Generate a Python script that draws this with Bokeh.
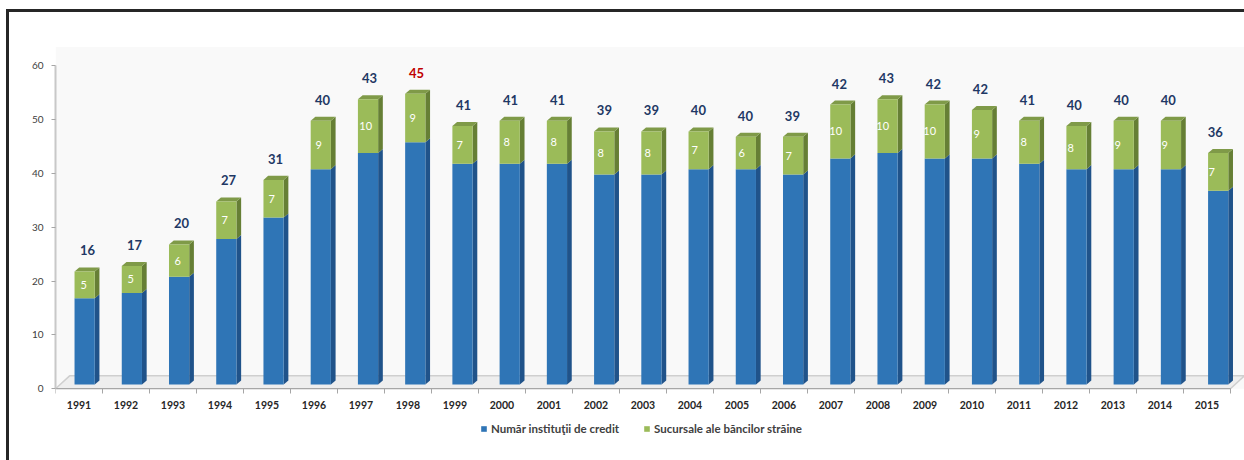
import numpy as np
from bokeh.plotting import figure
from bokeh.layouts import column, row
from bokeh.models import (Range1d, FixedTicker, Legend, LegendItem,
                          ColumnDataSource, Spacer)
from bokeh.core.properties import value
from bokeh.embed import file_html
from bokeh.resources import INLINE

# ---------------- data ----------------
years = ["1991", "1992", "1993", "1994", "1995", "1996", "1997", "1998", "1999",
         "2000", "2001", "2002", "2003", "2004", "2005", "2006", "2007", "2008",
         "2009", "2010", "2011", "2012", "2013", "2014", "2015"]
institutions = [16, 17, 20, 27, 31, 40, 43, 45, 41, 41, 41, 39, 39, 40, 40, 39,
                42, 43, 42, 42, 41, 40, 40, 40, 36]
branches = [5, 5, 6, 7, 7, 9, 10, 9, 7, 8, 8, 8, 8, 7, 6, 7, 10, 10, 10, 9, 8, 8,
            9, 9, 7]
highlight_year = "1998"
y_ticks = [0, 10, 20, 30, 40, 50, 60]
series_names = ["Număr instituţii de credit", "Sucursale ale băncilor străine"]

# ---------------- style ----------------
FONT = "Lato"
BLUE, BLUE_SIDE = "#2f75b6", "#20538a"
GREEN, GREEN_SIDE, GREEN_TOP = "#9bbb59", "#667f35", "#7f9a48"
NAVY, RED = "#1f3864", "#c00000"
FRAME_LINE = "#262626"

n = len(years)
pos = np.arange(1, n + 1, dtype=float)          # category centres
inst = np.array(institutions, dtype=float)
br = np.array(branches, dtype=float)

# pseudo-3D geometry (axis units)
shift_x, persp, bar_w = 0.12, 0.005, 0.43
dx, dy, lift = 0.10, 0.75, 0.8
fx, fy = 0.30, 2.4
X0, X1 = 0.5, 25.8
Y0, Y1 = -8.87, 64.7
WALL_TOP = 63.5

bx = pos + shift_x + (pos - 1) * persp
x0, x1 = bx - bar_w / 2, bx + bar_w / 2
b_bot = np.full(n, lift)
b_top = inst + lift
g_top = inst + br + lift

p = figure(width=1235, height=448,
           x_range=Range1d(X0, X1), y_range=Range1d(Y0, Y1),
           output_backend="svg", toolbar_location=None,
           min_border_left=46, min_border_right=0,
           min_border_top=28, min_border_bottom=24)
p.outline_line_color = None
p.background_fill_color = "white"
p.border_fill_color = "white"
p.xgrid.visible = False
p.ygrid.visible = False

# back wall and floor
p.quad(left=X0, right=X1, bottom=0, top=WALL_TOP,
       fill_color="#f9f9f9", line_color=None)
p.patch(x=[0.5, n + 0.5, n + 0.5 + fx, 0.5 + fx], y=[0, 0, fy, fy],
        fill_color="#eeeeee", line_color="#cfcfcf", line_width=1.5)

def side(xa, lo, hi):
    return ([[a, a + dx, a + dx, a] for a in xa],
            [[l, l + dy, h + dy, h] for l, h in zip(lo, hi)])

bs_x, bs_y = side(x1, b_bot, b_top)
p.patches(xs=bs_x, ys=bs_y, fill_color=BLUE_SIDE, line_color=None)
gs_x, gs_y = side(x1, b_top, g_top)
p.patches(xs=gs_x, ys=gs_y, fill_color=GREEN_SIDE, line_color=None)
gt_x = [[a, b, b + dx, a + dx] for a, b in zip(x0, x1)]
gt_y = [[t, t, t + dy, t + dy] for t in g_top]
p.patches(xs=gt_x, ys=gt_y, fill_color=GREEN_TOP, line_color=None)

r_blue = p.quad(left=x0, right=x1, bottom=b_bot, top=b_top,
                fill_color=BLUE, line_color=None)
r_green = p.quad(left=x0, right=x1, bottom=b_top, top=g_top,
                 fill_color=GREEN, line_color=None)

# labels
tot_src = ColumnDataSource(dict(
    x=pos + 0.18, y=g_top + dy, t=[str(v) for v in institutions],
    c=[RED if y == highlight_year else NAVY for y in years]))
p.text(x="x", y="y", text="t", source=tot_src, text_color="c",
       text_font=value(FONT), text_font_style="bold", text_font_size="13px",
       text_align="center", text_baseline="middle", y_offset=-17)

gr_src = ColumnDataSource(dict(x=pos + 0.1, y=b_top + br / 2,
                               t=[str(v) for v in branches]))
p.text(x="x", y="y", text="t", source=gr_src, text_color="white",
       text_font=value(FONT), text_font_size="11px",
       text_align="center", text_baseline="middle")

# axes
xa = p.xaxis[0]
xa.fixed_location = 0
xa.ticker = FixedTicker(ticks=list(pos),
                        minor_ticks=list(np.arange(0.5, n + 1, 1.0)))
xa.major_label_overrides = {int(i): y for i, y in zip(pos, years)}
xa.bounds = (0.5, n + 0.5)
xa.axis_line_color = "#a6a6a6"
xa.major_tick_line_color = None
xa.major_tick_out = 4
xa.major_tick_in = 0
xa.minor_tick_line_color = "#a6a6a6"
xa.minor_tick_out = 5
xa.minor_tick_in = 0
xa.major_label_standoff = 7
xa.major_label_text_font = FONT
xa.major_label_text_font_style = "bold"
xa.major_label_text_font_size = "10.5px"
xa.major_label_text_color = "#262626"

ya = p.yaxis[0]
ya.ticker = FixedTicker(ticks=y_ticks)
ya.bounds = (0, 60)
ya.axis_line_color = "#c8c8c8"
ya.axis_line_width = 2
ya.major_tick_line_color = "#a6a6a6"
ya.major_tick_out = 4
ya.major_tick_in = 0
ya.minor_tick_line_color = None
ya.major_label_standoff = 8
ya.major_label_text_font = FONT
ya.major_label_text_font_size = "10px"
ya.major_label_text_color = "#404040"

legend = Legend(items=[LegendItem(label=series_names[0], renderers=[r_blue]),
                       LegendItem(label=series_names[1], renderers=[r_green])],
                orientation="horizontal", location=(425, 1),
                glyph_width=7, glyph_height=7, label_standoff=4, spacing=24,
                margin=0, padding=0, border_line_color=None,
                background_fill_alpha=0,
                label_text_font=FONT, label_text_font_style="bold",
                label_text_font_size="11.5px", label_text_color="#404040")
p.add_layout(legend, "center")

# page frame: dark lines on the left and top
dark = {"background-color": FRAME_LINE}
layout = column(
    Spacer(width=1244, height=9),
    row(Spacer(width=6, height=3), Spacer(width=1238, height=3, styles=dark)),
    row(Spacer(width=6, height=448), Spacer(width=3, height=448, styles=dark), p),
)

open("out.html", "w").write(file_html(layout, INLINE))
